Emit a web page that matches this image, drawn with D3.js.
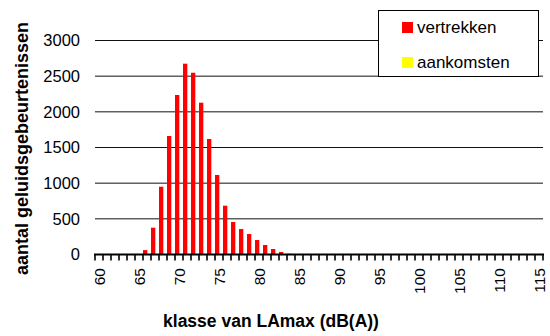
<!DOCTYPE html>
<html>
<head>
<meta charset="utf-8">
<script src="https://cdn.jsdelivr.net/npm/d3@7"></script>
<style>
  html, body { margin: 0; padding: 0; background: #fff; }
  svg { display: block; font-family: "Liberation Sans", Arial, sans-serif; }
</style>
</head>
<body>
<svg id="chart" width="550" height="336"></svg>
<script>
// LAmax classes (dB(A)) on the category axis
const classes = [60, 61, 62, 63, 64, 65, 66, 67, 68, 69,
                 70, 71, 72, 73, 74, 75, 76, 77, 78, 79,
                 80, 81, 82, 83, 84, 85, 86, 87, 88, 89,
                 90, 91, 92, 93, 94, 95, 96, 97, 98, 99,
                 100, 101, 102, 103, 104, 105, 106, 107, 108, 109,
                 110, 111, 112, 113, 114, 115];

// number of noise events per class: departures
const vertrekken = [0, 0, 0, 0, 0, 0, 62, 376, 950, 1661,
                    2236, 2675, 2548, 2128, 1619, 1115, 684, 456, 357, 287,
                    203, 133, 77, 35, 10, 3, 0, 0, 0, 0,
                    0, 0, 0, 0, 0, 0, 0, 0, 0, 0,
                    0, 0, 0, 0, 0, 0, 0, 0, 0, 0,
                    0, 0, 0, 0, 0, 0];

// number of noise events per class: arrivals
const aankomsten = [0, 0, 0, 0, 0, 0, 0, 0, 0, 0,
                    0, 0, 0, 0, 0, 0, 0, 0, 0, 0,
                    0, 0, 0, 0, 0, 0, 0, 0, 0, 0,
                    0, 0, 0, 0, 0, 0, 0, 0, 0, 0,
                    0, 0, 0, 0, 0, 0, 0, 0, 0, 0,
                    0, 0, 0, 0, 0, 0];

const seriesNames = ["vertrekken", "aankomsten"];
const seriesColors = ["#ff0000", "#ffff00"];

const yTicks = [0, 500, 1000, 1500, 2000, 2500, 3000];
const xTickLabels = ["60", "65", "70", "75", "80", "85", "90", "95", "100", "105", "110", "115"];

const svg = d3.select("#chart");

const plot = { left: 95, right: 543, top: 40.5, bottom: 254.5 };

const x = d3.scaleBand()
  .domain(classes.map(String))
  .range([plot.left, plot.right])
  .padding(0);

const xSub = d3.scaleBand()
  .domain(seriesNames)
  .range([0, x.bandwidth() * 1.08])
  .padding(0);

const y = d3.scaleLinear()
  .domain([0, 3000])
  .range([plot.bottom, plot.top]);

// horizontal gridlines
svg.append("g")
  .selectAll("line")
  .data(yTicks.filter(d => d > 0))
  .join("line")
  .attr("x1", plot.left)
  .attr("x2", plot.right)
  .attr("y1", d => y(d))
  .attr("y2", d => y(d))
  .attr("stroke", "#111")
  .attr("stroke-width", 1);

// y axis labels (no axis line)
const yAxis = d3.axisLeft(y)
  .tickValues(yTicks)
  .tickSize(0)
  .tickPadding(0)
  .tickFormat(d3.format("d"));

const gy = svg.append("g")
  .attr("transform", `translate(80,0)`)
  .call(yAxis);
gy.select(".domain").remove();
gy.selectAll("text")
  .attr("font-size", 16.5)
  .attr("font-family", "'Liberation Sans', Arial, sans-serif")
  .attr("fill", "#000");

// bars
const seriesData = [vertrekken, aankomsten];
seriesNames.forEach((name, si) => {
  svg.append("g")
    .selectAll("rect")
    .data(classes.map((c, i) => ({ c: String(c), v: seriesData[si][i] })))
    .join("rect")
    .attr("x", d => x(d.c) + xSub(name))
    .attr("width", xSub.bandwidth())
    .attr("y", d => y(d.v))
    .attr("height", d => y(0) - y(d.v))
    .attr("fill", seriesColors[si]);
});

// x axis: ticks between categories, labels every fifth class
const boundaries = classes.map(c => x(String(c))).concat([plot.right]);
svg.append("g")
  .selectAll("line")
  .data(boundaries)
  .join("line")
  .attr("x1", d => d)
  .attr("x2", d => d)
  .attr("y1", plot.bottom)
  .attr("y2", plot.bottom + 6)
  .attr("stroke", "#000")
  .attr("stroke-width", 1.6);

svg.append("line")
  .attr("x1", plot.left - 1)
  .attr("x2", plot.right + 1)
  .attr("y1", plot.bottom)
  .attr("y2", plot.bottom)
  .attr("stroke", "#000")
  .attr("stroke-width", 2);

svg.append("g")
  .selectAll("text")
  .data(xTickLabels)
  .join("text")
  .attr("transform", d => `translate(${x(d) + x.bandwidth() / 2},268) rotate(-90)`)
  .attr("text-anchor", "end")
  .attr("dominant-baseline", "central")
  .attr("font-size", 15.5)
  .attr("fill", "#000")
  .text(d => d);

// axis titles
svg.append("text")
  .attr("x", 271)
  .attr("y", 327)
  .attr("text-anchor", "middle")
  .attr("font-size", 17.5)
  .attr("font-weight", "bold")
  .attr("fill", "#000")
  .text("klasse van LAmax (dB(A))");

svg.append("text")
  .attr("transform", "translate(22,148.5) rotate(-90)")
  .attr("text-anchor", "middle")
  .attr("dominant-baseline", "central")
  .attr("font-size", 18)
  .attr("font-weight", "bold")
  .attr("fill", "#000")
  .text("aantal geluidsgebeurtenissen");

// legend
const legend = svg.append("g");
legend.append("rect")
  .attr("x", 378.5)
  .attr("y", 10.5)
  .attr("width", 160)
  .attr("height", 66)
  .attr("fill", "#fff")
  .attr("stroke", "#000")
  .attr("stroke-width", 1);

seriesNames.forEach((name, i) => {
  const cy = 27.5 + i * 35;
  legend.append("rect")
    .attr("x", 402)
    .attr("y", cy - 5.5)
    .attr("width", 11)
    .attr("height", 11)
    .attr("fill", seriesColors[i]);
  legend.append("text")
    .attr("x", 417)
    .attr("y", cy + 5.5)
    .attr("font-size", 17)
    .attr("fill", "#000")
    .text(name);
});
</script>
</body>
</html>
